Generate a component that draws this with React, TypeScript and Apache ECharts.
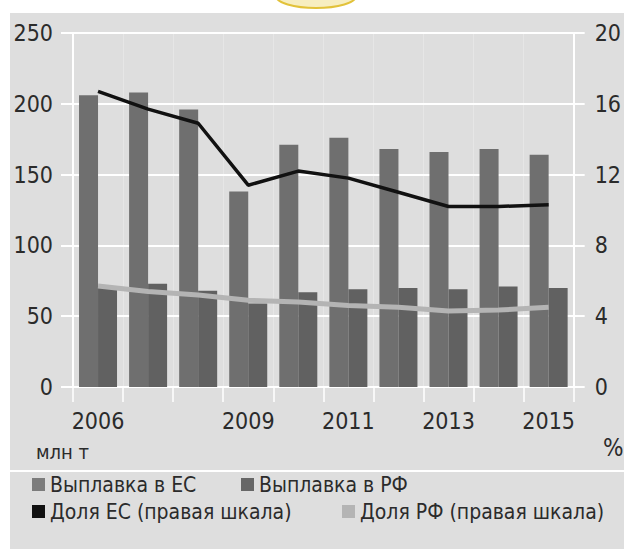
import React, { useEffect, useRef } from "react";
import * as echarts from "echarts";

const years = ["2006", "2007", "2008", "2009", "2010", "2011", "2012", "2013", "2014", "2015"];
const euSmelt = [206, 208, 196, 138, 171, 176, 168, 166, 168, 164];
const rfSmelt = [70, 73, 68, 59, 67, 69, 70, 69, 71, 70];
const euShare = [16.7, 15.7, 14.9, 11.4, 12.2, 11.8, 11.0, 10.2, 10.2, 10.3];
const rfShare = [5.7, 5.4, 5.2, 4.9, 4.8, 4.6, 4.5, 4.3, 4.35, 4.5];
const shownYearIdx = [0, 3, 5, 7, 9];

const nameEU = "Выплавка в ЕС";
const nameRF = "Выплавка в РФ";
const nameEUShare = "Доля ЕС (правая шкала)";
const nameRFShare = "Доля РФ (правая шкала)";

const FONT = "'DejaVu Sans Condensed', 'Liberation Sans Narrow', sans-serif";
const TXT = "#2b2b2b";
const BG = "#dedede";

export default function App() {
  const ref = useRef<HTMLDivElement>(null);
  useEffect(() => {
    if (!ref.current) return;
    const chart = echarts.init(ref.current, undefined, { renderer: "svg" });
    const legendBase = {
      itemWidth: 13,
      itemHeight: 13,
      icon: "rect",
      textStyle: { fontFamily: FONT, fontSize: 21, color: TXT },
      padding: 0,
    };
    chart.setOption({
      animation: false,
      backgroundColor: "#ffffff",
      textStyle: { fontFamily: FONT },
      grid: { left: 73, right: 47, top: 33, bottom: 162 },
      graphic: [
        { type: "rect", z: -100, shape: { x: 10, y: 13, width: 614, height: 536 }, style: { fill: BG } },
        { type: "ellipse", z: -99, shape: { cx: 316, cy: -4, rx: 40, ry: 12 }, style: { fill: "#f7eec0", stroke: "#e2c23a", lineWidth: 2 } },
        { type: "line", z: 10, shape: { x1: 10, y1: 471, x2: 624, y2: 471 }, style: { stroke: "#ffffff", lineWidth: 2 } },
        { type: "text", z: 10, left: 36, top: 442, style: { text: "млн т", fontFamily: FONT, fontSize: 20, fill: TXT } },
        { type: "text", z: 10, left: 603, top: 436, style: { text: "%", fontFamily: FONT, fontSize: 24, fill: TXT } },
      ],
      legend: [
        { ...legendBase, left: 32, top: 474, data: [{ name: nameEU, itemStyle: { color: "#7c7c7c" } }] },
        { ...legendBase, left: 241, top: 474, data: [{ name: nameRF, itemStyle: { color: "#676767" } }] },
        { ...legendBase, left: 32, top: 501, data: [{ name: nameEUShare, itemStyle: { color: "#111111" } }] },
        { ...legendBase, left: 342, top: 501, data: [{ name: nameRFShare, itemStyle: { color: "#b4b4b4" } }] },
      ],
      xAxis: {
        type: "category",
        data: years,
        boundaryGap: true,
        axisLine: { show: true, lineStyle: { color: "#ffffff", width: 2 } },
        axisTick: { show: true, interval: 0, length: 15, lineStyle: { color: "#ffffff", width: 1.5 } },
        splitLine: { show: true, interval: 0, lineStyle: { color: "rgba(255,255,255,0.25)", width: 1 } },
        axisLabel: {
          interval: (i: number) => shownYearIdx.includes(i),
          margin: 22,
          fontFamily: FONT,
          fontSize: 23,
          color: TXT,
        },
      },
      yAxis: [
        {
          type: "value",
          min: 0,
          max: 250,
          interval: 50,
          axisLine: { show: true, lineStyle: { color: "#ffffff", width: 2 } },
          axisTick: { show: true, length: 12, lineStyle: { color: "#ffffff", width: 2 } },
          splitLine: { show: true, lineStyle: { color: "#ffffff", width: 2 } },
          axisLabel: { margin: 20, fontFamily: FONT, fontSize: 23, color: TXT, padding: [7, 0, 0, 0] },
        },
        {
          type: "value",
          min: 0,
          max: 20,
          interval: 4,
          position: "right",
          axisLine: { show: true, lineStyle: { color: "#ffffff", width: 2 } },
          axisTick: { show: true, length: 11, lineStyle: { color: "#ffffff", width: 2 } },
          splitLine: { show: false },
          axisLabel: { margin: 21, fontFamily: FONT, fontSize: 23, color: TXT, padding: [7, 0, 0, 0] },
        },
      ],
      series: [
        {
          name: nameEU,
          type: "bar",
          data: euSmelt,
          barWidth: 19,
          barGap: "0%",
          itemStyle: { color: "#6f6f6f" },
        },
        {
          name: nameRF,
          type: "bar",
          data: rfSmelt,
          barWidth: 19,
          barGap: "0%",
          itemStyle: { color: "#616161" },
        },
        {
          name: nameEUShare,
          type: "line",
          yAxisIndex: 1,
          data: euShare,
          symbol: "none",
          z: 5,
          lineStyle: { color: "#111111", width: 3.5 },
          itemStyle: { color: "#111111" },
        },
        {
          name: nameRFShare,
          type: "line",
          yAxisIndex: 1,
          data: rfShare,
          symbol: "none",
          z: 4,
          lineStyle: { color: "#b4b4b4", width: 5 },
          itemStyle: { color: "#b4b4b4" },
        },
      ],
    });
    return () => chart.dispose();
  }, []);
  return (
    <div
      ref={ref}
      style={{ position: "absolute", left: 0, top: 0, width: 624, height: 549 }}
    />
  );
}
